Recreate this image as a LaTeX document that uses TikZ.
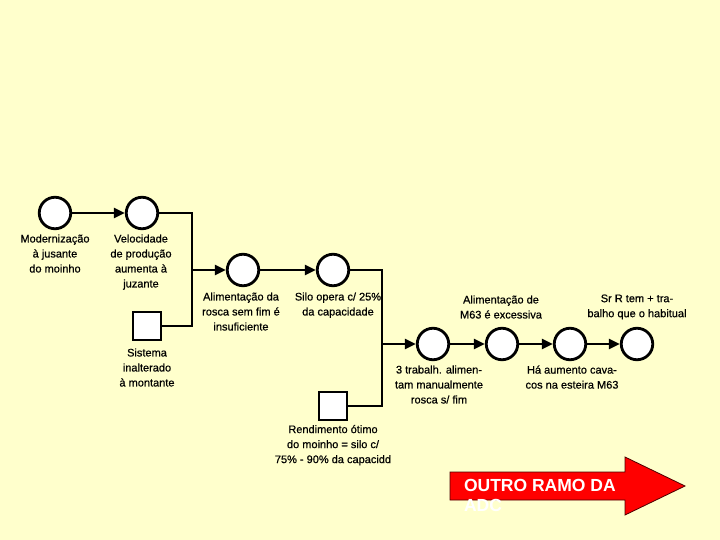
\documentclass[tikz,border=0pt]{standalone}
\usepackage{fontspec}
\setmainfont{Liberation Sans}
\newfontfamily\labfont{Liberation Sans}[FakeBold=0.6]
\usetikzlibrary{arrows.meta}
\definecolor{bgyellow}{HTML}{FFFFCC}
\definecolor{arrred}{HTML}{FF0000}
\begin{document}
\begin{tikzpicture}[x=1pt,y=-1pt,
  ev/.style={circle,draw=black,fill=white,line width=2.8pt,minimum size=31.5pt,inner sep=0pt},
  cond/.style={rectangle,draw=black,fill=white,line width=2.8pt,minimum size=28pt,inner sep=0pt},
  lab/.style={font=\labfont\fontsize{11}{15}\selectfont,align=center,inner sep=0pt,outer sep=0pt,anchor=north,text=black,execute at begin node=\strut},
  link/.style={line width=2.8pt,draw=black},
  arr/.style={link,-{Triangle[length=11pt,width=10pt]}},
  bigtxt/.style={font=\bfseries\fontsize{17.5}{20}\selectfont,text=white,align=left,anchor=north west,inner sep=0pt,outer sep=0pt,execute at begin node=\strut}]
\fill[bgyellow] (0,0) rectangle (720,540);
\useasboundingbox (0,0) rectangle (720,540);

% events and conditions
\node[ev] (c1) at (55,213) {};
\node[ev] (c2) at (142,213) {};
\node[cond] (s1) at (147,326) {};
\node[ev] (c3) at (243,270) {};
\node[ev] (c4) at (333,270) {};
\node[cond] (s2) at (333,406) {};
\node[ev] (c5) at (433,344) {};
\node[ev] (c6) at (502,344) {};
\node[ev] (c7) at (570,344) {};
\node[ev] (c8) at (637,344) {};
\coordinate (j1) at (192,326);
\coordinate (j2) at (382,406);

% connectors
\draw[arr] (c1) -- (c2);
\draw[link] (c2.east) -| (j1) -- (s1.east);
\draw[arr] (c3.west -| j1) -- (c3.west);
\draw[arr] (c3) -- (c4);
\draw[link] (c4.east) -| (j2) -- (s2.east);
\draw[arr] (c5.west -| j2) -- (c5.west);
\draw[arr] (c5) -- (c6);
\draw[arr] (c6) -- (c7);
\draw[arr] (c7) -- (c8);

% labels
\node[lab] (l1) at (55,234.5) {Modernização\\à jusante\\do moinho};
\node[lab] (l2) at (141,234.5) {Velocidade\\de produção\\aumenta à\\juzante};
\node[lab] (ls1) at (147,348.5) {Sistema\\inalterado\\à montante};
\node[lab] (l3) at (241,292.5) {Alimentação da\\rosca sem fim é\\insuficiente};
\node[lab] (l4) at (338,292.5) {Silo opera c/ 25\%\\da capacidade};
\node[lab] (l5) at (439,365.5) {3 trabalh. alimen-\\tam manualmente\\rosca s/ fim};
\node[lab] (l6) at (501,295.5) {Alimentação de\\M63 é excessiva};
\node[lab] (l7) at (572,365.5) {Há aumento cava-\\cos na esteira M63};
\node[lab] (l8) at (637,294.5) {Sr R tem + tra-\\balho que o habitual};
\node[lab] (ls2) at (333,425) {Rendimento ótimo\\do moinho = silo c/\\75\% - 90\% da capacidd};

% red block arrow
\draw[fill=arrred,draw=black!70!red,line width=0.8pt]
  (450,472) -- (625,472) -- (625,457) -- (685,486) -- (625,515) -- (625,500) -- (450,500) -- cycle;
\node[bigtxt] (otxt) at (464,479) {OUTRO RAMO DA\\ADC};
\end{tikzpicture}
\end{document}
